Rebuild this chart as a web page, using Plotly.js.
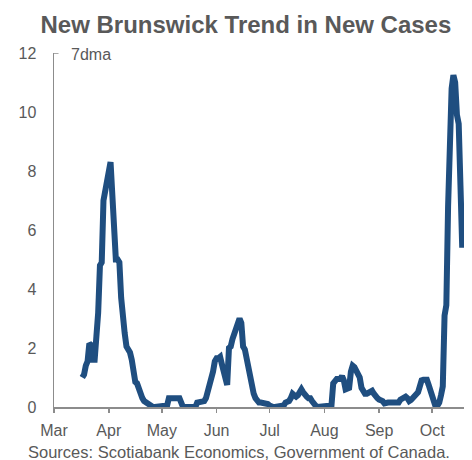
<!DOCTYPE html>
<html>
<head>
<meta charset="utf-8">
<script src="https://cdn.plot.ly/plotly-3.0.1.min.js"></script>
<style>
  html, body { margin: 0; padding: 0; background: #ffffff; }
  #chart { width: 472px; height: 460px; }
</style>
</head>
<body>
<div id="chart"></div>
<script>
// New Brunswick: 7-day moving average of new COVID-19 cases, 2020
const firstDate = '2020-03-17';

// daily 7dma values, one per day starting at firstDate
const casesMar = [1.0, 1.1, 1.4, 1.55, 2.15, 2.1, 1.6, 1.6, 2.4, 3.2, 4.8, 4.9, 7.0, 7.3, 7.6];
const casesApr = [8.0, 8.3, 7.2, 6.2, 5.0, 5.0, 4.9, 3.7, 2.9, 2.5, 2.05, 1.95, 1.85, 1.6, 0.95,
                  0.85, 0.8, 0.6, 0.4, 0.3, 0.2, 0.15, 0.15, 0.05, 0, 0, 0, 0, 0, 0];
const casesMay = [0, 0, 0, 0.05, 0.3, 0.3, 0.3, 0.3, 0.3, 0.3, 0.3, 0.15, 0, 0, 0,
                  0, 0, 0, 0, 0, 0.15, 0.15, 0.15, 0.15, 0.2, 0.3, 0.5, 0.7, 0.95, 1.2, 1.55];
const casesJun = [1.65, 1.65, 1.7, 1.45, 1.2, 0.95, 0.75, 2.0, 2.05, 2.3, 2.5, 2.7, 2.95, 3.0, 2.85,
                  2.05, 1.95, 1.6, 1.3, 1.0, 0.75, 0.45, 0.3, 0.2, 0.15, 0.15, 0.15, 0.15, 0.15, 0.1];
const casesJul = [0.05, 0, 0, 0, 0, 0, 0, 0, 0.05, 0.15, 0.15, 0.2, 0.3, 0.45, 0.4,
                  0.35, 0.4, 0.5, 0.6, 0.5, 0.4, 0.35, 0.3, 0.3, 0.2, 0.1, 0.05, 0, 0, 0, 0];
const casesAug = [0, 0, 0, 0, 0.05, 0.8, 0.9, 0.95, 0.95, 0.95, 1.05, 0.9, 0.6, 0.6, 0.65,
                  1.2, 1.4, 1.35, 1.2, 1.15, 1.0, 0.65, 0.5, 0.45, 0.45, 0.5, 0.55, 0.55, 0.45, 0.35, 0.3];
const casesSep = [0.25, 0.25, 0.2, 0.12, 0.15, 0.15, 0.15, 0.15, 0.12, 0.1, 0.1, 0.15, 0.25, 0.3, 0.35,
                  0.35, 0.3, 0.2, 0.24, 0.3, 0.35, 0.45, 0.5, 0.7, 0.9, 0.92, 0.92, 0.92, 0.75, 0.55];
const casesOct = [0.45, 0.2, 0.0, 0.05, 0.15, 0.4, 0.7, 3.1, 3.45, 6.8, 9.8, 10.8, 11.25, 11.0, 9.9,
                  9.6, 7.5, 5.4];

const monthTicks = ['2020-03-01', '2020-04-01', '2020-05-01', '2020-06-01',
                    '2020-07-01', '2020-08-01', '2020-09-01', '2020-10-01'];
const monthLabels = ['Mar', 'Apr', 'May', 'Jun', 'Jul', 'Aug', 'Sep', 'Oct'];
const yTicks = [0, 2, 4, 6, 8, 10, 12];

const values = [].concat(casesMar, casesApr, casesMay, casesJun, casesJul, casesAug, casesSep, casesOct);

// one calendar date per value
const dates = values.map((_, i) => {
  const d = new Date(firstDate + 'T00:00:00Z');
  d.setUTCDate(d.getUTCDate() + i);
  return d.toISOString().slice(0, 10);
});

const grey = '#595959';
const axisGrey = '#8c8c8c';

const trace = {
  x: dates,
  y: values,
  type: 'scatter',
  mode: 'lines',
  line: { color: '#1f4e80', width: 6, shape: 'linear' },
  hoverinfo: 'skip'
};

const layout = {
  width: 472,
  height: 460,
  margin: { l: 54, r: 8, t: 53, b: 53 },
  paper_bgcolor: '#ffffff',
  plot_bgcolor: '#ffffff',
  showlegend: false,
  font: { family: 'Liberation Sans, Arial, sans-serif', color: grey, size: 16 },
  title: {
    text: '<b>New Brunswick Trend in New Cases</b>',
    font: { family: 'Liberation Sans, Arial, sans-serif', size: 24, color: grey },
    x: 0.521, xanchor: 'center',
    y: 0.946, yanchor: 'middle'
  },
  xaxis: {
    type: 'date',
    range: ['2020-03-01', '2020-10-19'],
    tickmode: 'array',
    tickvals: monthTicks,
    ticktext: monthLabels,
    ticks: 'outside',
    ticklen: 4,
    tickwidth: 1.5,
    tickcolor: axisGrey,
    showline: true,
    linecolor: axisGrey,
    linewidth: 1.5,
    showgrid: false,
    zeroline: false,
    ticklabelstandoff: 4,
    tickfont: { size: 16, color: grey }
  },
  yaxis: {
    range: [0, 12],
    tickmode: 'array',
    tickvals: yTicks,
    ticks: '',
    showline: true,
    linecolor: axisGrey,
    linewidth: 1.5,
    showgrid: false,
    zeroline: false,
    ticklabelstandoff: 13,
    tickfont: { size: 16, color: grey }
  },
  shapes: [
    // short stub marking the top of the value axis
    { type: 'line', xref: 'paper', yref: 'y', x0: 0, x1: 0.011, y0: 12, y1: 12,
      line: { color: axisGrey, width: 1.5 } }
  ],
  annotations: [
    { text: '7dma', xref: 'paper', yref: 'paper', x: 0.037, y: 0.995,
      xanchor: 'left', yanchor: 'middle', showarrow: false,
      font: { size: 16, color: grey } },
    { text: 'Sources: Scotiabank Economics, Government of Canada.', xref: 'paper', yref: 'paper',
      x: -0.068, y: -0.128, xanchor: 'left', yanchor: 'middle', showarrow: false,
      font: { size: 16.5, color: grey } }
  ]
};

Plotly.newPlot('chart', [trace], layout, { displayModeBar: false, staticPlot: true });
</script>
</body>
</html>
